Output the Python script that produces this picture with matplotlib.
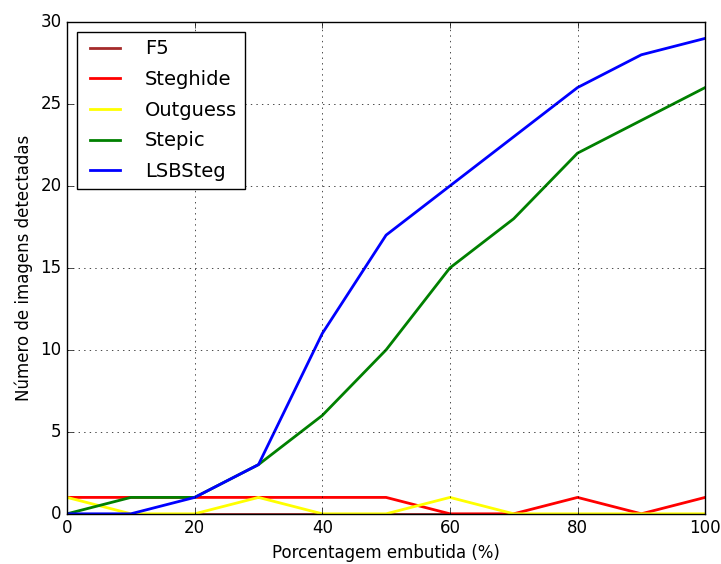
import matplotlib
matplotlib.use("Agg")
import matplotlib.pyplot as plt

x = [0, 10, 20, 30, 40, 50, 60, 70, 80, 90, 100]
f5 = [0, 0, 0, 0, 0, 0, 0, 0, 0, 0, 0]
steghide = [1, 1, 1, 1, 1, 1, 0, 0, 1, 0, 1]
outguess = [1, 0, 0, 1, 0, 0, 1, 0, 0, 0, 0]
stepic = [0, 1, 1, 3, 6, 10, 15, 18, 22, 24, 26]
lsbsteg = [0, 0, 1, 3, 11, 17, 20, 23, 26, 28, 29]

plt.style.use("classic")
plt.rcParams['font.family'] = ['DejaVu Sans']
fig = plt.figure(figsize=(7.21, 5.64), dpi=100, facecolor='white')
ax = fig.add_axes([0.093, 0.089, 0.885, 0.872])
ax.plot(x, f5, color='brown', lw=2, label='F5')
ax.plot(x, steghide, color='red', lw=2, label='Steghide')
ax.plot(x, outguess, color='yellow', lw=2, label='Outguess')
ax.plot(x, stepic, color='green', lw=2, label='Stepic')
ax.plot(x, lsbsteg, color='blue', lw=2, label='LSBSteg')
ax.set_xlim(0, 100)
ax.set_ylim(0, 30)
ax.set_xticks([0, 20, 40, 60, 80, 100])
ax.set_yticks([0, 5, 10, 15, 20, 25, 30])
ax.grid(True)
ax.tick_params(labelsize=12)
ax.set_xlabel('Porcentagem embutida (%)', fontsize=12)
ax.set_ylabel('Número de imagens detectadas', fontsize=12)
ax.legend(loc='upper left', fontsize=14, handlelength=2.1,
          labelspacing=0.6, handletextpad=1.0)
fig.savefig('out.png', dpi=100, facecolor='white')
